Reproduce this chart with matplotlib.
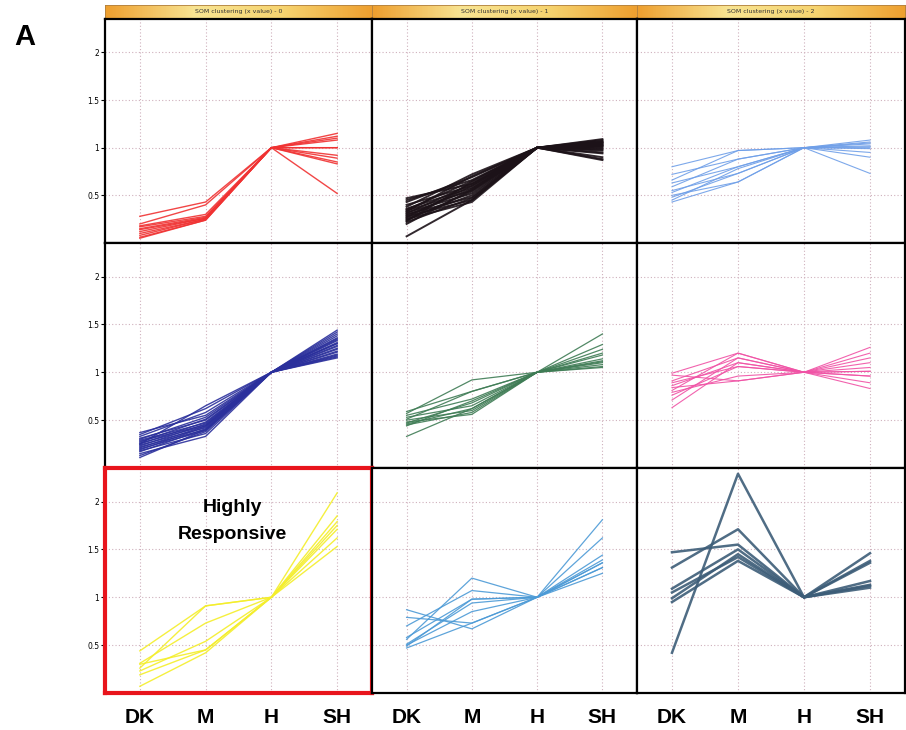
import matplotlib
matplotlib.use("Agg")
import matplotlib.pyplot as plt
import numpy as np
from matplotlib.colors import LinearSegmentedColormap

# conditions on the x axis
conditions = ["DK", "M", "H", "SH"]
y_ticks = [0.5, 1, 1.5, 2]
y_tick_labels = ["0.5", "1", "1.5", "2"]
headers = ["SOM clustering (x value) - 0", "SOM clustering (x value) - 1", "SOM clustering (x value) - 2"]

# expression profiles per SOM cluster (DK, M, H, SH)
red_profiles = [
    [0.28, 0.43, 1, 1.15], [0.20, 0.40, 1, 1.12], [0.18, 0.30, 1, 1.10],
    [0.17, 0.28, 1, 1.08], [0.15, 0.27, 1, 1.00], [0.14, 0.26, 1, 1.00],
    [0.12, 0.26, 1, 0.92], [0.10, 0.25, 1, 0.89], [0.08, 0.25, 1, 0.85],
    [0.06, 0.24, 1, 0.83], [0.05, 0.24, 1, 0.52],
]
black_profiles = [
    [0.47, 0.62, 1, 1.09], [0.45, 0.66, 1, 1.08], [0.43, 0.69, 1, 1.07],
    [0.40, 0.60, 1, 1.06], [0.38, 0.72, 1, 1.05], [0.36, 0.58, 1, 1.04],
    [0.35, 0.65, 1, 1.03], [0.34, 0.55, 1, 1.02], [0.33, 0.70, 1, 1.01],
    [0.32, 0.52, 1, 1.00], [0.31, 0.62, 1, 0.99], [0.30, 0.48, 1, 1.03],
    [0.29, 0.57, 1, 0.98], [0.28, 0.45, 1, 1.06], [0.27, 0.60, 1, 0.97],
    [0.26, 0.50, 1, 0.95], [0.25, 0.43, 1, 0.94], [0.24, 0.54, 1, 1.05],
    [0.23, 0.64, 1, 0.90], [0.22, 0.47, 1, 0.88], [0.20, 0.56, 1, 1.02],
    [0.07, 0.45, 1, 0.87],
]
lightblue_profiles = [
    [0.80, 0.97, 1, 1.05], [0.72, 0.88, 1, 1.08], [0.66, 0.97, 1, 1.02],
    [0.63, 0.80, 1, 1.04], [0.59, 0.88, 1, 0.99], [0.55, 0.73, 1, 1.01],
    [0.53, 0.80, 1, 0.95], [0.50, 0.64, 1, 1.06], [0.48, 0.73, 1, 0.90],
    [0.45, 0.78, 1, 1.00], [0.43, 0.64, 1, 0.73],
]
navy_profiles = [
    [0.37, 0.55, 1, 1.44], [0.35, 0.62, 1, 1.42], [0.33, 0.58, 1, 1.40],
    [0.31, 0.50, 1, 1.38], [0.30, 0.53, 1, 1.36], [0.29, 0.47, 1, 1.35],
    [0.28, 0.45, 1, 1.33], [0.27, 0.51, 1, 1.31], [0.26, 0.44, 1, 1.30],
    [0.25, 0.48, 1, 1.28], [0.24, 0.42, 1, 1.27], [0.23, 0.46, 1, 1.25],
    [0.22, 0.40, 1, 1.24], [0.21, 0.44, 1, 1.22], [0.20, 0.39, 1, 1.21],
    [0.19, 0.43, 1, 1.19], [0.18, 0.36, 1, 1.18], [0.17, 0.41, 1, 1.17],
    [0.15, 0.33, 1, 1.16], [0.13, 0.38, 1, 1.15], [0.11, 0.40, 1, 1.30],
    [0.25, 0.65, 1, 1.34],
]
green_profiles = [
    [0.59, 0.80, 1, 1.40], [0.57, 0.92, 1, 1.29], [0.55, 0.72, 1, 1.24],
    [0.53, 0.65, 1, 1.18], [0.51, 0.80, 1, 1.11], [0.50, 0.60, 1, 1.14],
    [0.48, 0.56, 1, 1.05], [0.47, 0.68, 1, 1.20], [0.46, 0.62, 1, 1.08],
    [0.45, 0.58, 1, 1.12], [0.44, 0.70, 1, 1.06], [0.33, 0.62, 1, 1.10],
]
pink_profiles = [
    [0.99, 1.20, 1, 1.26], [0.97, 0.91, 1, 0.96], [0.91, 1.15, 1, 1.20],
    [0.89, 1.06, 1, 0.89], [0.86, 1.10, 1, 1.15], [0.84, 0.91, 1, 1.01],
    [0.81, 1.20, 1, 1.10], [0.79, 0.96, 1, 0.83], [0.76, 1.06, 1, 1.01],
    [0.71, 1.15, 1, 0.96], [0.63, 1.10, 1, 1.05],
]
yellow_profiles = [
    [0.44, 0.91, 1, 1.53], [0.31, 0.73, 1, 1.62], [0.26, 0.91, 1, 1.71],
    [0.23, 0.54, 1, 1.79], [0.19, 0.45, 1, 1.85], [0.07, 0.42, 1, 2.09],
    [0.30, 0.45, 1, 1.75],
]
blue_profiles = [
    [0.87, 0.67, 1, 1.31], [0.79, 0.73, 1, 1.25], [0.70, 1.07, 1, 1.81],
    [0.58, 0.98, 1, 1.44], [0.56, 1.20, 1, 1.36], [0.51, 0.94, 1, 1.62],
    [0.49, 0.98, 1, 1.39], [0.47, 0.73, 1, 1.31], [0.50, 0.85, 1, 1.36],
]
slate_profiles = [
    [0.42, 2.29, 1, 1.36], [1.47, 1.55, 1, 1.46], [1.31, 1.71, 1, 1.38],
    [1.09, 1.50, 1, 1.17], [0.99, 1.45, 1, 1.13], [0.95, 1.38, 1, 1.10],
    [1.05, 1.42, 1, 1.12],
]

clusters = [
    [red_profiles, black_profiles, lightblue_profiles],
    [navy_profiles, green_profiles, pink_profiles],
    [yellow_profiles, blue_profiles, slate_profiles],
]
colors = [
    ["#f03232", "#1c1218", "#6f9fe8"],
    ["#2b309c", "#3f7c55", "#f052a5"],
    ["#f4ee2a", "#4c9ad6", "#3d5d78"],
]
widths = [
    [1.0, 1.4, 0.8],
    [1.0, 0.9, 0.8],
    [1.0, 0.9, 1.8],
]

W, H = 906, 730
fig = plt.figure(figsize=(W / 100, H / 100), dpi=100)


def rect(x0, y0, x1, y1):
    return [x0 / W, 1 - y1 / H, (x1 - x0) / W, (y1 - y0) / H]


col_edges = [105, 372, 637, 905]
row_edges = [19, 243, 468, 693]
tick_font = ["Liberation Sans Narrow", "Liberation Sans"]

# header bar
head_cmap = LinearSegmentedColormap.from_list("head", ["#eea030", "#f8e492", "#f6d470", "#eea030"])
for c in range(3):
    hax = fig.add_axes(rect(col_edges[c], 5, col_edges[c + 1], 18))
    hax.imshow(np.linspace(0, 1, 100)[None, :], cmap=head_cmap, aspect="auto", extent=(0, 1, 0, 1))
    hax.text(0.5, 0.5, headers[c], ha="center", va="center", fontsize=4.5, color="#333333")
    hax.set_xticks([])
    hax.set_yticks([])
    for s in hax.spines.values():
        s.set_color("#b08040")
        s.set_linewidth(0.6)

x = np.arange(len(conditions))
for r in range(3):
    for c in range(3):
        ax = fig.add_axes(rect(col_edges[c], row_edges[r], col_edges[c + 1], row_edges[r + 1]))
        for prof in clusters[r][c]:
            ax.plot(x, prof, color=colors[r][c], lw=widths[r][c], alpha=0.9)
        ax.set_xlim(-0.53, 3.53)
        ax.set_ylim(0.0, 2.35)
        ax.set_xticks(x)
        ax.set_yticks(y_ticks)
        ax.grid(True, color="#cfb0bc", linestyle=(0, (1, 2)), linewidth=0.8)
        ax.set_axisbelow(True)
        if c == 0:
            ax.set_yticklabels(y_tick_labels, fontsize=5.5)
            ax.tick_params(axis="y", length=3, width=0.8, pad=1)
        else:
            ax.tick_params(axis="y", length=0, labelleft=False)
        if r == 2:
            ax.set_xticklabels(conditions, fontsize=15, fontweight="bold", family=tick_font)
            ax.tick_params(axis="x", length=0, pad=11)
        else:
            ax.tick_params(axis="x", length=0, labelbottom=False)
        for s in ax.spines.values():
            s.set_color("black")
            s.set_linewidth(1.6)
        if r == 2 and c == 0:
            for s in ax.spines.values():
                s.set_color("#e8141c")
                s.set_linewidth(3)
            ax.text(0.476, 0.765, "Highly\nResponsive", transform=ax.transAxes, ha="center", va="center",
                    fontsize=14, fontweight="bold", family=["Liberation Sans"], linespacing=1.75)

fig.text(25 / W, 1 - 37 / H, "A", fontsize=21, fontweight="bold", family=["Liberation Sans"],
         ha="center", va="center")

plt.savefig("out.png", dpi=100)
